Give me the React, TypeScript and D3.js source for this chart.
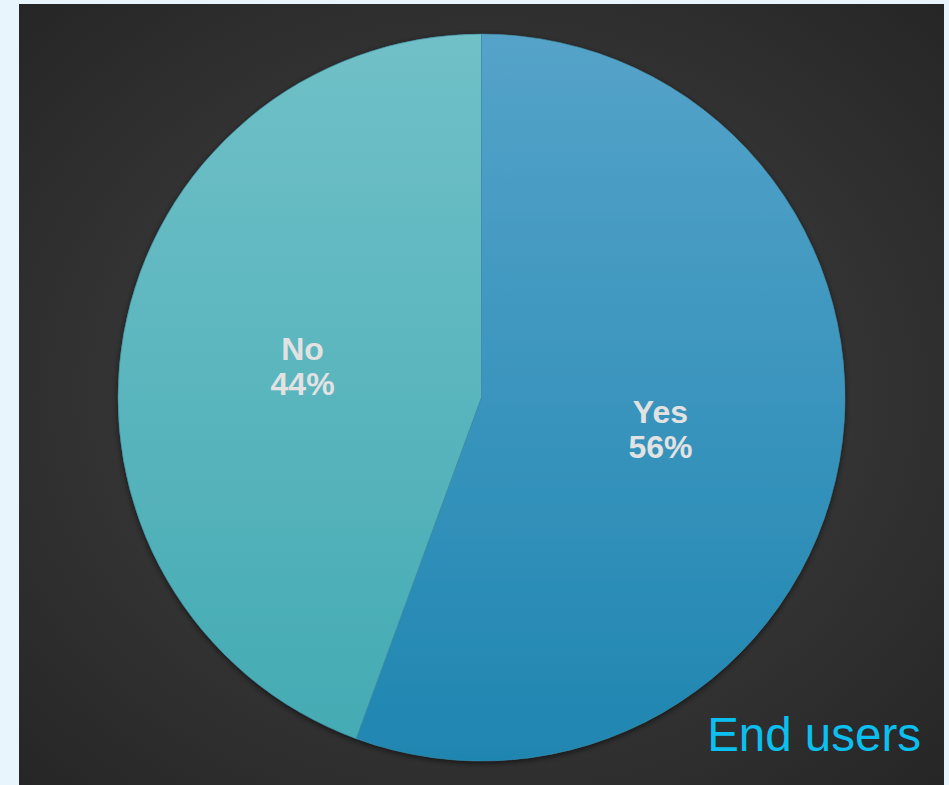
import React from "react";
import * as d3 from "d3";

const categories = ["Yes", "No"];
const values = [55.6, 44.4];
const title = "End users";

const W = 949;
const H = 785;

export default function App() {
  const cx = 481.5;
  const cy = 397.5;
  const r = 363.5;
  const pie = d3.pie<number>().sort(null).value((d) => d);
  const arcs = pie(values);
  const arcGen = d3.arc<d3.PieArcDatum<number>>().innerRadius(0).outerRadius(r);
  const gradIds = ["gYes", "gNo"];
  return (
    <svg width={W} height={H} style={{ position: "absolute", left: 0, top: 0, display: "block" }}>
      <defs>
        <radialGradient id="bg" cx="50%" cy="50%" r="70%">
          <stop offset="0%" stopColor="#454545" />
          <stop offset="100%" stopColor="#262626" />
        </radialGradient>
        <linearGradient id="gYes" x1="0" y1={-r} x2="0" y2={r} gradientUnits="userSpaceOnUse">
          <stop offset="0%" stopColor="#55a3c9" />
          <stop offset="100%" stopColor="#1f86b1" />
        </linearGradient>
        <linearGradient id="gNo" x1="0" y1={-r} x2="0" y2={r} gradientUnits="userSpaceOnUse">
          <stop offset="0%" stopColor="#70c0c7" />
          <stop offset="100%" stopColor="#43aab3" />
        </linearGradient>
        <filter id="shadow" x="-10%" y="-10%" width="120%" height="120%">
          <feDropShadow dx="0" dy="2" stdDeviation="3" floodColor="#000" floodOpacity="0.6" />
        </filter>
      </defs>
      <rect x={0} y={0} width={W} height={H} fill="#e8f5fc" />
      <rect x={19} y={4} width={925} height={H - 4} fill="url(#bg)" />
      <g transform={`translate(${cx},${cy})`}>
        <g filter="url(#shadow)">
          {arcs.map((a, i) => (
            <path key={categories[i]} d={arcGen(a) || ""} fill={`url(#${gradIds[i]})`} />
          ))}
        </g>
        {arcs.map((a, i) => (
          <path
            key={"s" + categories[i]}
            d={arcGen(a) || ""}
            fill="none"
            stroke="#3f8ea8"
            strokeWidth={0.8}
            strokeOpacity={0.7}
          />
        ))}
        {arcs.map((a, i) => {
          const [x, y] = arcGen.centroid(a);
          return (
            <text
              key={"t" + categories[i]}
              x={x}
              y={y}
              textAnchor="middle"
              fontFamily="Liberation Sans, Arial, sans-serif"
              fontWeight="bold"
              fontSize={32}
              fill="#e2e2e2"
            >
              <tspan x={x} dy={-6}>{categories[i]}</tspan>
              <tspan x={x} dy={35}>{Math.round(values[i])}%</tspan>
            </text>
          );
        })}
      </g>
      <text
        x={921}
        y={751}
        textAnchor="end"
        fontFamily="Liberation Sans, Arial, sans-serif"
        fontSize={47.5}
        fill="#0bbfee"
      >
        {title}
      </text>
    </svg>
  );
}
